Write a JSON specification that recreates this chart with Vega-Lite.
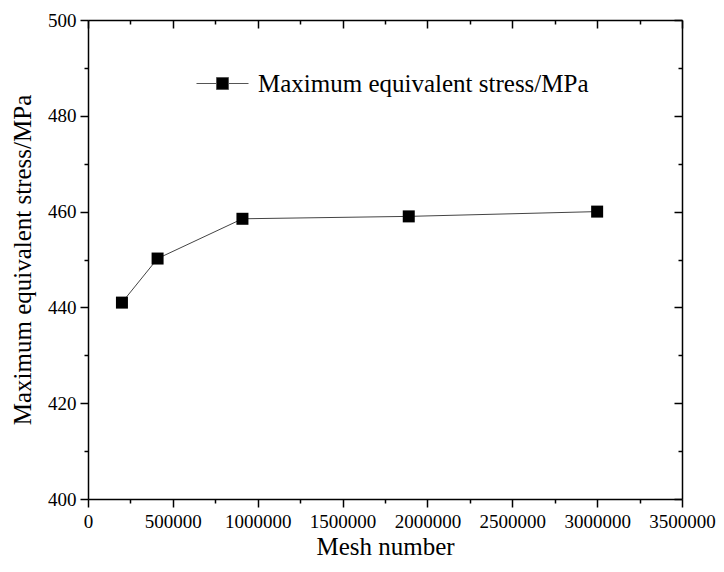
{
  "$schema": "https://vega.github.io/schema/vega-lite/v6.json",
  "width": 594,
  "height": 479,
  "autosize": {"type": "none"},
  "padding": {"left": 88, "top": 20, "right": 42, "bottom": 73},
  "background": "white",
  "config": {
    "font": "Liberation Serif",
    "view": {"stroke": null},
    "axis": {
      "domainColor": "black",
      "domainWidth": 1.5,
      "tickColor": "black",
      "tickWidth": 1.5,
      "titleColor": "black",
      "titleFont": "Liberation Serif",
      "titleFontSize": 25,
      "titleFontWeight": "normal",
      "grid": false
    }
  },
  "data": {
    "values": [
      {"mesh": 200000, "stress": 441.0},
      {"mesh": 410000, "stress": 450.2},
      {"mesh": 910000, "stress": 458.5},
      {"mesh": 1890000, "stress": 459.0},
      {"mesh": 3000000, "stress": 460.0}
    ]
  },
  "layer": [
    {
      "mark": {"type": "line", "color": "#444444", "strokeWidth": 1},
      "encoding": {
        "x": {
          "field": "mesh", "type": "quantitative",
          "scale": {"domain": [0, 3500000], "nice": false, "zero": false},
          "axis": {
            "orient": "bottom",
            "values": [0, 500000, 1000000, 1500000, 2000000, 2500000, 3000000, 3500000],
            "labelExpr": "format(datum.value, 'd')",
            "tickSize": 8,
            "labelPadding": 5,
            "labelFont": "Liberation Serif",
            "labelFontSize": 19,
            "labelColor": "black",
            "labelFlush": false,
            "labelOverlap": false,
            "title": "Mesh number",
            "titlePadding": 3
          }
        },
        "y": {
          "field": "stress", "type": "quantitative",
          "scale": {"domain": [400, 500], "nice": false, "zero": false},
          "axis": {
            "orient": "left",
            "values": [400, 420, 440, 460, 480, 500],
            "tickSize": 8,
            "labelPadding": 4,
            "labelFont": "Liberation Serif",
            "labelFontSize": 19,
            "labelColor": "black",
            "labelFlush": false,
            "labelOverlap": false,
            "title": "Maximum equivalent stress/MPa",
            "titlePadding": 12
          }
        }
      }
    },
    {
      "mark": {"type": "point", "shape": "square", "filled": true, "size": 144, "opacity": 1},
      "encoding": {
        "x": {
          "field": "mesh", "type": "quantitative",
          "scale": {"domain": [0, 3500000], "nice": false, "zero": false},
          "axis": {
            "orient": "bottom",
            "values": [250000, 750000, 1250000, 1750000, 2250000, 2750000, 3250000],
            "tickSize": 4, "labels": false, "domain": false, "title": null
          }
        },
        "y": {
          "field": "stress", "type": "quantitative",
          "scale": {"domain": [400, 500], "nice": false, "zero": false},
          "axis": {
            "orient": "left",
            "values": [410, 430, 450, 470, 490],
            "tickSize": 4, "labels": false, "domain": false, "title": null
          }
        },
        "color": {
          "datum": "Maximum equivalent stress/MPa",
          "type": "nominal",
          "scale": {"range": ["black"]},
          "legend": {
            "title": null,
            "orient": "none",
            "legendX": 108,
            "legendY": 37,
            "padding": 0,
            "symbolType": "M-1,0H-0.23M0.23,0H1M-0.23,-0.23H0.23V0.23H-0.23Z",
            "symbolSize": 2704,
            "symbolStrokeColor": "#555555",
            "symbolStrokeWidth": 1,
            "symbolFillColor": "black",
            "labelFont": "Liberation Serif",
            "labelFontSize": 25,
            "labelColor": "black",
            "labelOffset": 9,
            "labelLimit": 500
          }
        }
      }
    },
    {
      "mark": {"type": "point", "opacity": 0},
      "encoding": {
        "x": {
          "field": "mesh", "type": "quantitative",
          "scale": {"domain": [0, 3500000], "nice": false, "zero": false},
          "axis": {
            "orient": "top",
            "values": [0, 500000, 1000000, 1500000, 2000000, 2500000, 3000000, 3500000],
            "tickSize": -8, "labels": false, "title": null
          }
        },
        "y": {
          "field": "stress", "type": "quantitative",
          "scale": {"domain": [400, 500], "nice": false, "zero": false},
          "axis": {
            "orient": "right",
            "values": [400, 420, 440, 460, 480, 500],
            "tickSize": -8, "labels": false, "title": null
          }
        }
      }
    },
    {
      "mark": {"type": "point", "opacity": 0},
      "encoding": {
        "x": {
          "field": "mesh", "type": "quantitative",
          "scale": {"domain": [0, 3500000], "nice": false, "zero": false},
          "axis": {
            "orient": "top",
            "values": [250000, 750000, 1250000, 1750000, 2250000, 2750000, 3250000],
            "tickSize": -4, "labels": false, "domain": false, "title": null
          }
        },
        "y": {
          "field": "stress", "type": "quantitative",
          "scale": {"domain": [400, 500], "nice": false, "zero": false},
          "axis": {
            "orient": "right",
            "values": [410, 430, 450, 470, 490],
            "tickSize": -4, "labels": false, "domain": false, "title": null
          }
        }
      }
    }
  ],
  "resolve": {"axis": {"x": "independent", "y": "independent"}}
}
